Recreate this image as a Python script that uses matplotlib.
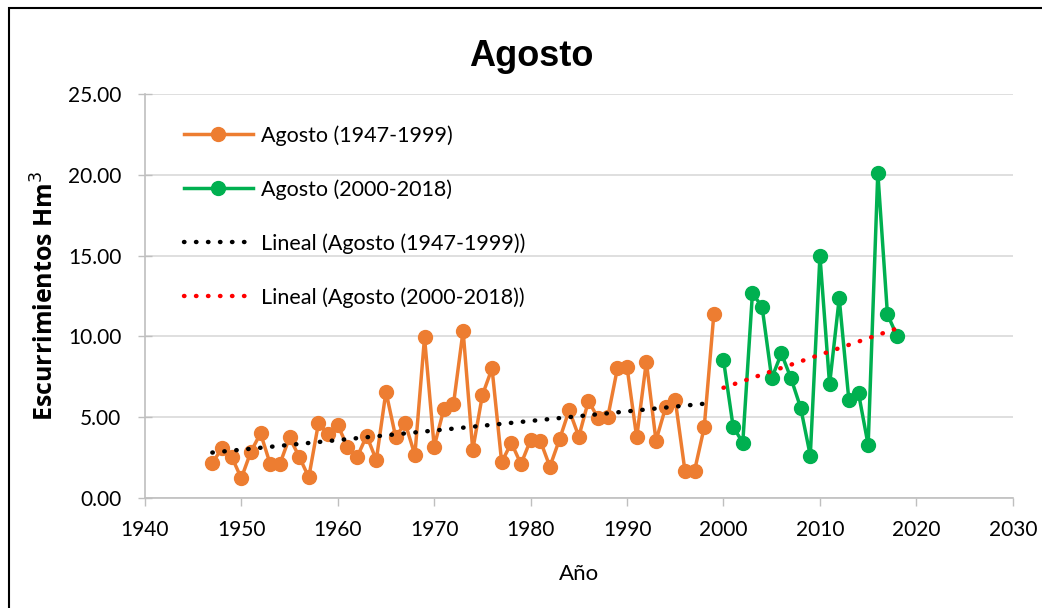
import numpy as np
import matplotlib
matplotlib.use("Agg")
import matplotlib.pyplot as plt
from matplotlib.ticker import FuncFormatter
from matplotlib.patches import Rectangle

# ==========================================
# DATA
# ==========================================
years_a = list(range(1947, 2000))
values_a = [2.15, 3.10, 2.56, 1.22, 2.87, 4.00, 2.10, 2.10, 3.75, 2.56,
            1.28, 4.62, 3.94, 4.52, 3.18, 2.52, 3.85, 2.35, 6.58, 3.80,
            4.62, 2.66, 9.94, 3.18, 5.49, 5.80, 10.35, 2.97, 6.37, 8.02,
            2.21, 3.42, 2.10, 3.59, 3.55, 1.94, 3.63, 5.44, 3.80, 6.02,
            4.93, 5.00, 8.02, 8.09, 3.75, 8.44, 3.55, 5.61, 6.06, 1.69,
            1.69, 4.37, 11.39]

years_b = list(range(2000, 2019))
values_b = [8.54, 4.41, 3.42, 12.67, 11.84, 7.41, 8.95, 7.41, 5.59, 2.62,
            14.99, 7.03, 12.36, 6.06, 6.48, 3.28, 20.15, 11.37, 10.02]

label_a = "Agosto (1947-1999)"
label_b = "Agosto (2000-2018)"
x_ticks = [1940, 1950, 1960, 1970, 1980, 1990, 2000, 2010, 2020, 2030]
y_ticks = [0, 5, 10, 15, 20, 25]

ORANGE = "#ED7D31"
GREEN = "#00B050"

# Calibri-like text for the body, Arial-like for the title
plt.rcParams['font.family'] = ['Lato', 'DejaVu Sans']

# linear trends (Excel-style "Lineal")
fit_a = np.polyfit(years_a, values_a, 1)
fit_b = np.polyfit(years_b, values_b, 1)
trend_a = np.polyval(fit_a, years_a)
trend_b = np.polyval(fit_b, years_b)

# ==========================================
# PLOT
# ==========================================
fig = plt.figure(figsize=(10.42, 6.08), dpi=100)
ax = fig.add_axes([0.139, 0.181, 0.833, 0.664])

ax.plot(years_a, values_a, color=ORANGE, lw=2.5, marker='o', ms=10,
        label=label_a, zorder=3)
ax.plot(years_b, values_b, color=GREEN, lw=2.5, marker='o', ms=10,
        label=label_b, zorder=3)
ax.plot(years_a, trend_a, color='black', lw=3.2, ls=(0, (0.1, 2.6)),
        dash_capstyle='round', label="Lineal (" + label_a + ")", zorder=4)
ax.plot(years_b, trend_b, color='red', lw=3.2, ls=(0, (0.1, 2.6)),
        dash_capstyle='round', label="Lineal (" + label_b + ")", zorder=4)

ax.set_xlim(1940, 2030)
ax.set_ylim(0, 25)
ax.set_xticks(x_ticks)
ax.set_yticks(y_ticks)
ax.yaxis.set_major_formatter(FuncFormatter(lambda v, p: f"{v:.2f}"))
ax.tick_params(axis='both', labelsize=15, color='#bfbfbf', width=1)
ax.tick_params(axis='x', length=6, pad=10)
ax.tick_params(axis='y', direction='inout', length=10, pad=12)
ax.grid(axis='y', color='#d9d9d9', lw=1.2)
ax.set_axisbelow(True)
for side in ['top', 'right']:
    ax.spines[side].set_visible(False)
for side in ['left', 'bottom']:
    ax.spines[side].set_color('#bfbfbf')
    ax.spines[side].set_linewidth(1.2)

fig.text(0.51, 1 - 66 / 608, "Agosto", fontsize=26, weight='bold',
         family=['Liberation Sans', 'DejaVu Sans'], ha='center', va='baseline')
ax.set_xlabel("Año", fontsize=16, labelpad=17)
ax.set_ylabel("Escurrimientos Hm$^{3}$", fontsize=18, weight='bold', labelpad=6,
              family=['Open Sans', 'DejaVu Sans'])

leg = ax.legend(loc='upper left', bbox_to_anchor=(0.03, 0.955), frameon=False,
                fontsize=15.5, labelspacing=1.55, handlelength=3.2,
                handletextpad=0.4, borderaxespad=0.2)

# outer border of the chart area (right and bottom edges fall off the image)
fig.add_artist(Rectangle((0.009, -0.1), 1.1, 1.087, transform=fig.transFigure,
                         fill=False, edgecolor='black', lw=1.5))

fig.savefig("out.png", dpi=100)
